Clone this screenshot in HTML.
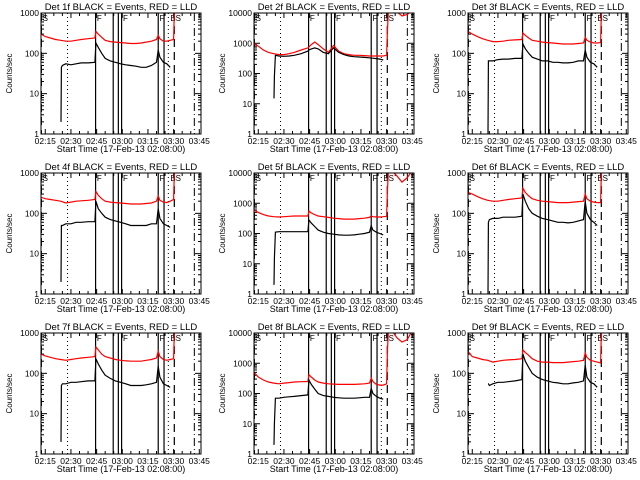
<!DOCTYPE html>
<html><head><meta charset="utf-8"><style>
body{margin:0;background:#fff;}
svg{display:block;font-family:"Liberation Sans",sans-serif;}
</style></head><body>
<svg id="c" width="640" height="480" viewBox="0 0 640 480"></svg>
<script>
const detNames=["1f","2f","3f","4f","5f","6f","7f","8f","9f"];
const yMaxes=[1000,10000,1000,1000,10000,1000,1000,10000,1000];
const xTickLabels=["02:15","02:30","02:45","03:00","03:15","03:30","03:45"];
const xTickMinutes=[15,30,45,60,75,90,105];
const TR=[12.5,15,18,21,24,27,30,33,36,40,44,44.6,46,48,50,53,56,59,62,65,68,71,74,77,80,81,82,84,86,88,90,90.5,91,93,96,99,102,105];
const TB=[24.2,24.4,25,27,30,33,36,40,44,44.6,46,48,50,53,56,59,62,65,68,71,74,77,80,81,82,84,86,88];
const black1=[2,45,50,55,52,55,58,58,60,180,140,100,75,65,60,55,52,50,48,45,45,50,60,120,80,60,55,45];
const red1=[300,260,240,220,210,200,200,210,220,230,240,350,300,250,210,195,190,185,180,175,175,180,190,200,220,280,230,200,200,210,220,1500,3000,5000,5000,5000,5000,5000];
const black2=[15,80,400,380,370,380,400,450,550,600,650,700,650,500,450,700,500,420,380,360,350,340,330,320,320,310,300,280];
const red2=[1000,800,600,500,450,420,420,450,500,600,700,750,900,1100,900,650,500,850,550,450,420,400,400,390,380,380,380,380,380,380,400,3000,10000,12000,11000,8000,9000,12000];
const black3=[1,65,65,65,70,72,72,75,75,170,130,100,80,72,65,65,60,60,58,58,60,65,65,120,80,60,55,45];
const red3=[350,300,260,230,210,195,195,200,210,215,220,320,280,240,210,200,190,185,180,175,170,170,170,175,180,250,210,190,180,180,185,1500,3000,5000,5000,5000,5000,5000];
const black4=[2,50,50,55,55,60,60,62,62,200,130,100,80,70,65,60,55,50,50,50,50,55,55,130,75,55,50,45];
const red4=[250,230,220,210,200,180,190,200,205,210,220,350,280,230,200,190,185,180,175,170,170,170,175,180,200,270,210,190,185,200,220,1500,3000,5000,5000,5000,5000,5000];
const black5=[2,15,110,115,115,115,115,115,115,280,220,170,130,110,100,95,90,88,88,90,95,100,110,180,130,110,100,90];
const red5=[600,500,420,380,360,350,360,370,380,380,380,550,480,420,380,360,340,320,310,300,300,300,310,320,340,380,360,350,350,360,370,3000,10000,12000,8000,5000,7000,12000];
const black6=[1,60,70,75,75,80,80,80,85,300,200,130,100,85,75,70,65,60,60,58,60,65,70,200,100,70,60,50];
const red6=[330,300,260,230,210,200,200,210,220,230,240,420,330,270,230,210,200,195,190,185,185,185,190,195,200,300,230,200,190,185,185,1500,3000,5000,5000,5000,5000,5000];
const black7=[2,50,55,55,60,60,62,65,65,230,170,120,90,75,65,60,55,50,50,50,52,55,60,150,80,55,50,45];
const red7=[300,270,250,230,220,210,220,230,240,250,260,450,380,300,260,240,220,210,205,200,200,200,210,220,240,350,260,220,210,220,230,1500,3000,5000,5000,5000,5000,5000];
const black8=[2,10,70,70,75,78,80,85,90,280,200,140,100,85,80,75,72,70,70,70,72,75,75,150,100,80,70,65];
const red8=[500,350,280,240,220,210,220,230,240,245,250,420,350,280,240,220,210,205,200,200,200,200,205,210,220,320,250,200,190,190,210,3000,10000,12000,7000,5000,6000,12000];
const black9=[55,55,50,55,60,60,62,65,70,300,200,140,100,80,70,65,60,58,55,55,58,60,65,160,80,60,55,45];
const red9=[350,260,240,220,210,190,200,210,215,220,230,380,330,280,230,200,190,190,185,185,185,190,195,200,210,320,250,210,200,190,180,1500,3000,5000,5000,5000,5000,5000];
const blacks=[black1,black2,black3,black4,black5,black6,black7,black8,black9];
const reds=[red1,red2,red3,red4,red5,red6,red7,red8,red9];
const solidLines=[44.4,54.7,57.7,59.6,81,84.4];
const dottedLines=[28,86.9];
const dashedLines=[12.7,90.4];
const dashDotLines=[102.1];

const NS="http://www.w3.org/2000/svg";
const svg=document.getElementById('c');
function mk(tag,attrs,parent){const e=document.createElementNS(NS,tag);for(const k in attrs)e.setAttribute(k,attrs[k]);(parent||svg).appendChild(e);return e;}
const lefts=[41,254,468],tops=[13,173,333],W=160,H=121,T0=12.5,T1=106;

for(let p=0;p<9;p++){
  const L=lefts[p%3],Tp=tops[Math.floor(p/3)],ymax=yMaxes[p];
  const xs=t=>L+(t-T0)/(T1-T0)*W;
  const ys=v=>Tp+H-Math.log10(v)/Math.log10(ymax)*H;
  const g=mk('g',{});
  
  
  const cid='clip'+p;
  const cp=mk('clipPath',{id:cid},g);mk('rect',{x:L,y:Tp,width:W,height:H},cp);
  const title=mk('text',{x:L+W/2,y:Tp-3,'text-anchor':'middle','font-size':9.5},g);
  title.textContent='Det '+detNames[p]+' BLACK = Events, RED = LLD';
  
  
  const yl=mk('text',{x:0,y:0,'text-anchor':'middle','font-size':8,transform:`translate(${L-29},${Tp+H/2}) rotate(-90)`},g);
  yl.textContent='Counts/sec';
  
  
  const xl=mk('text',{x:L+W/2,y:Tp+H+18,'text-anchor':'middle','font-size':9},g);
  xl.textContent='Start Time (17-Feb-13 02:08:00)';
  
  
  const dec=Math.round(Math.log10(ymax));
  for(let d=0;d<=dec;d++){
    const v=Math.pow(10,d),y=ys(v);
    mk('line',{x1:L,x2:L+6,y1:y,y2:y,stroke:'#000'},g);
    mk('line',{x1:L+W-6,x2:L+W,y1:y,y2:y,stroke:'#000'},g);
    const tl=mk('text',{x:L-2,y:y+3,'text-anchor':'end','font-size':8.5},g);
    tl.textContent=String(v);
    
    
    if(d<dec)for(let m=2;m<=9;m++){const ym=ys(v*m);
      mk('line',{x1:L,x2:L+3,y1:ym,y2:ym,stroke:'#000'},g);
      mk('line',{x1:L+W-3,x2:L+W,y1:ym,y2:ym,stroke:'#000'},g);}
  }
  for(let m=15;m<=105;m+=5){const x=xs(m),maj=(m%15===0);const len=maj?5:3;
    mk('line',{x1:x,x2:x,y1:Tp+H,y2:Tp+H-len,stroke:'#000'},g);
    mk('line',{x1:x,x2:x,y1:Tp,y2:Tp+len,stroke:'#000'},g);}
  xTickMinutes.forEach((m,i)=>{const tl=mk('text',{x:xs(m),y:Tp+H+10,'text-anchor':'middle','font-size':8.5},g);
    tl.textContent=xTickLabels[i];
    
    });
  const vg=mk('g',{'clip-path':`url(#${cid})`},g);
  solidLines.forEach(t=>mk('line',{x1:xs(t),x2:xs(t),y1:Tp,y2:Tp+H,stroke:'#000','stroke-width':1.2},vg));
  dottedLines.forEach(t=>mk('line',{x1:xs(t),x2:xs(t),y1:Tp,y2:Tp+H,stroke:'#000','stroke-dasharray':'1,3'},vg));
  dashedLines.forEach(t=>mk('line',{x1:xs(t),x2:xs(t),y1:Tp,y2:Tp+H,stroke:'#000','stroke-dasharray':'8,5','stroke-width':1.2},vg));
  dashDotLines.forEach(t=>mk('line',{x1:xs(t),x2:xs(t),y1:Tp,y2:Tp+H,stroke:'#000','stroke-dasharray':'8,3,1,3'},vg));
  [[12.9,'S'],[44.6,'F'],[59.8,'F'],[81.2,'F'],[87.5,'B'],[90.6,'S']].forEach(([t,s])=>{
    const ft=mk('text',{x:xs(t)+1,y:Tp+8,'font-size':8},g);ft.textContent=s;
    
    });
  const sg=mk('g',{'clip-path':`url(#${cid})`,fill:'none'},g);
  const rd=reds[p].map((v,i)=>(i?'L':'M')+xs(TR[i]).toFixed(1)+','+ys(v).toFixed(1)).join('');
  const rp=mk('path',{d:rd,stroke:'#ff0000','stroke-width':1.2},sg);
  
  
  const bd=blacks[p].map((v,i)=>(i?'L':'M')+xs(TB[i]).toFixed(1)+','+ys(v).toFixed(1)).join('');
  const bp=mk('path',{d:bd,stroke:'#000','stroke-width':1.2},sg);
  
  
  mk('rect',{x:L,y:Tp,width:W,height:H,fill:'none',stroke:'#000'},g);
}
</script>
</body></html>
